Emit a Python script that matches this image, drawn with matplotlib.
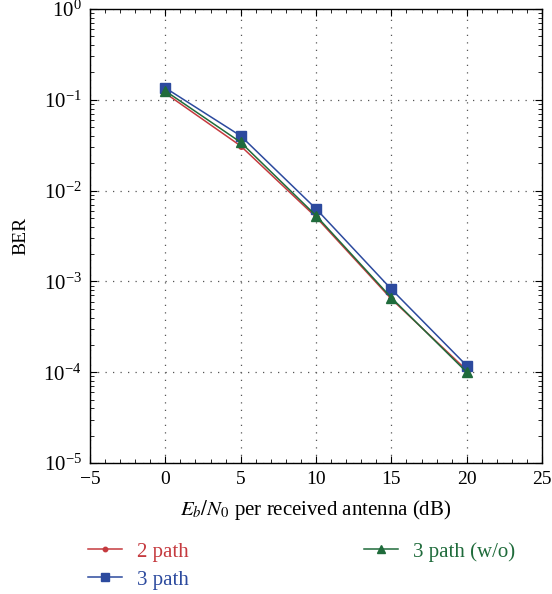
import matplotlib
matplotlib.use("Agg")
import matplotlib.pyplot as plt
import numpy as np

plt.rcParams['font.family'] = ['Liberation Serif', 'DejaVu Serif']
plt.rcParams['mathtext.fontset'] = 'stix'

snr = [0, 5, 10, 15, 20]
ber_2path = [0.118, 0.031, 0.0051, 0.00064, 0.000105]
ber_3path = [0.135, 0.040, 0.0063, 0.00082, 0.000118]
ber_3path_wo = [0.125, 0.034, 0.0053, 0.00066, 0.0001]

red = '#c53a3f'
blue = '#2c4a9e'
green = '#1f6b3b'

fig = plt.figure(figsize=(5.52, 5.94), dpi=100)
ax = fig.add_axes([0.163, 0.2205, 0.819, 0.7645])

ax.semilogy(snr, ber_2path, color=red, marker='o', markersize=4, lw=1.1, label='2 path')
ax.semilogy(snr, ber_3path, color=blue, marker='s', markersize=7, lw=1.1, label='3 path')
ax.semilogy(snr, ber_3path_wo, color=green, marker='^', markersize=7, lw=1.1, label='3 path (w/o)')

ax.set_xlim(-5, 25)
ax.set_ylim(1e-5, 1)
ax.set_xticks([-5, 0, 5, 10, 15, 20, 25])
ax.set_xticklabels(['\u22125', '0', '5', '10', '15', '20', '25'])
ax.set_xticks(np.arange(-5, 26, 1), minor=True)
ax.grid(True, which='major', linestyle=(0, (1, 5)), color='#555555', lw=0.9)
ax.tick_params(which='both', direction='in', top=True, right=True)
ax.tick_params(axis='x', labelsize=14, pad=6)
ax.tick_params(axis='y', labelsize=15, pad=6)
ax.tick_params(which='major', length=5)
ax.tick_params(which='minor', length=3)
for s in ax.spines.values():
    s.set_linewidth(1.0)

ax.set_xlabel(r'$E_b/N_0$ per received antenna (dB)', fontsize=15, labelpad=7)
ax.set_ylabel('BER', fontsize=14, labelpad=10)

leg = fig.legend(loc='lower left', bbox_to_anchor=(0.125, -0.024), ncol=2, frameon=False,
                 fontsize=15, handlelength=1.65, handletextpad=0.7, columnspacing=8.4,
                 labelspacing=0.4, markerscale=0.8)
for t, c in zip(leg.get_texts(), [red, blue, green]):
    t.set_color(c)

fig.savefig('out.png', dpi=100)
